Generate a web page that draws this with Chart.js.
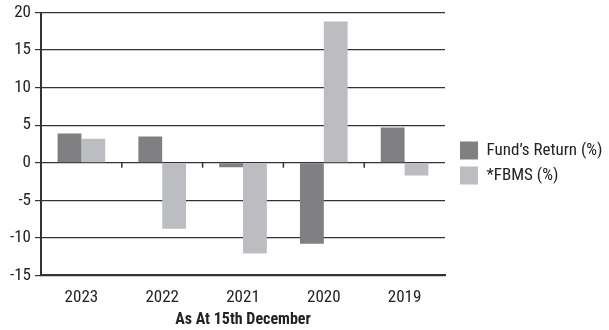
<!DOCTYPE html>
<html><head><meta charset="utf-8">
<script src="https://cdn.jsdelivr.net/npm/chart.js@4/dist/chart.umd.min.js"></script>
<style>html,body{margin:0;padding:0;background:#fff}#wrap{width:609px;height:330px}</style>
</head><body><div id="wrap"><canvas id="c" width="609" height="330"></canvas></div>
<script>
const categories = ["2023", "2022", "2021", "2020", "2019"];
const fundReturn = [3.9, 3.5, -0.6, -10.8, 4.7];
const fbms = [3.2, -8.8, -12.1, 18.8, -1.7];
const seriesNames = ["Fund\u2019s Return (%)", "*FBMS (%)"];
const xTitle = "As At 15th December";
const yMin = -15, yMax = 20, yStep = 5;

const FONT = "'Liberation Sans Narrow', 'Roboto Condensed', 'Arial Narrow', Roboto, sans-serif";

const zeroTicks = {
  id: 'zeroTicks',
  afterDatasetsDraw(chart) {
    const x = chart.scales.x, y = chart.scales.y;
    const y0 = y.getPixelForValue(0);
    const ctx = chart.ctx;
    ctx.save();
    ctx.strokeStyle = '#333';
    ctx.lineWidth = 1.5;
    for (let i = 1; i < categories.length; i++) {
      const px = (x.getPixelForTick(i - 1) + x.getPixelForTick(i)) / 2;
      ctx.beginPath();
      ctx.moveTo(px, y0);
      ctx.lineTo(px, y0 + 5);
      ctx.stroke();
    }
    ctx.restore();
  }
};

// empty spacer between plot area and legend
const legendGap = {
  id: 'legendGap',
  beforeInit(chart) {
    const box = {
      position: 'right', weight: 500, fullSize: false,
      options: { display: false },
      top: 0, left: 0, right: 0, bottom: 0, width: 0, height: 0,
      isHorizontal() { return false; },
      update(maxWidth, maxHeight) { this.width = 8; this.height = maxHeight; return { width: 8, height: maxHeight }; },
      draw() {}
    };
    if (Chart.layouts && Chart.layouts.addBox) {
      Chart.layouts.addBox(chart, box);
    } else {
      box._layers = () => [{ z: 0, draw() {} }];
      chart.boxes.push(box);
    }
  }
};

new Chart(document.getElementById('c'), {
  type: 'bar',
  data: {
    labels: categories,
    datasets: [
      { label: seriesNames[0], data: fundReturn, backgroundColor: '#808083' },
      { label: seriesNames[1], data: fbms, backgroundColor: '#bcbdc0' }
    ]
  },
  options: {
    responsive: false,
    animation: false,
    barPercentage: 1,
    categoryPercentage: 0.59,
    layout: { padding: { left: 6, right: 7, top: 0, bottom: 4 } },
    plugins: {
      legend: {
        position: 'right',
        labels: {
          boxWidth: 18, boxHeight: 18, padding: 7,
          color: '#222',
          font: { family: FONT, size: 17 }
        }
      },
      tooltip: { enabled: false }
    },
    scales: {
      x: {
        grid: {
          offset: true,
          drawTicks: false,
          color: (ctx) => ctx.index === categories.length ? '#333' : 'rgba(0,0,0,0)',
          lineWidth: 2
        },
        border: { display: true, color: '#333', width: 2 },
        ticks: { color: '#222', font: { family: FONT, size: 17 }, padding: 12 },
        title: { display: true, text: xTitle, color: '#222', font: { family: FONT, size: 16, weight: 'bold' }, padding: { top: -9, bottom: -4 } }
      },
      y: {
        min: yMin, max: yMax,
        grid: { color: '#333', lineWidth: 1.2, tickLength: 6 },
        border: { display: true, color: '#333', width: 2 },
        ticks: { stepSize: yStep, color: '#222', font: { family: FONT, size: 17, lineHeight: 1 }, padding: 4 }
      }
    }
  },
  plugins: [zeroTicks, legendGap]
});
</script>
</body></html>
